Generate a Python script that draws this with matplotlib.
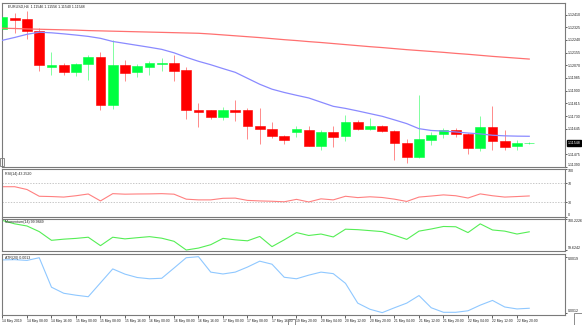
import matplotlib
matplotlib.use('Agg')
import matplotlib.pyplot as plt
from matplotlib.patches import Rectangle

plt.rcParams['font.family'] = ['Liberation Sans', 'DejaVu Sans']

# EURUSD H4, 14 May - 23 May 2019
opens = [1.12312, 1.12386, 1.12379, 1.12303, 1.12062, 1.12069, 1.12025, 1.12080, 1.12125, 1.11801,
         1.12074, 1.12022, 1.12062, 1.12076, 1.12085, 1.12040, 1.11772, 1.11768, 1.11724, 1.11768,
         1.11772, 1.11661, 1.11643, 1.11599, 1.11621, 1.11639, 1.11532, 1.11621, 1.11593, 1.11690,
         1.11643, 1.11665, 1.11627, 1.11550, 1.11456, 1.11572, 1.11610, 1.11639, 1.11612, 1.11516,
         1.11657, 1.11560, 1.11527, 1.11546]
highs = [1.12395, 1.12419, 1.12435, 1.12319, 1.12162, 1.12085, 1.12085, 1.12140, 1.12162, 1.12241,
         1.12107, 1.12080, 1.12096, 1.12118, 1.12140, 1.12062, 1.11817, 1.11772, 1.11790, 1.11839,
         1.11786, 1.11784, 1.11687, 1.11605, 1.11661, 1.11665, 1.11639, 1.11661, 1.11739, 1.11701,
         1.11717, 1.11672, 1.11639, 1.11576, 1.11873, 1.11623, 1.11650, 1.11650, 1.11617, 1.11732,
         1.11799, 1.11634, 1.11567, 1.11556]
lows = [1.12305, 1.12290, 1.12245, 1.12033, 1.12007, 1.12007, 1.11999, 1.11973, 1.11772, 1.11777,
        1.11968, 1.11991, 1.12007, 1.12035, 1.11968, 1.11710, 1.11654, 1.11712, 1.11701, 1.11699,
        1.11576, 1.11543, 1.11583, 1.11543, 1.11590, 1.11527, 1.11500, 1.11523, 1.11560, 1.11634,
        1.11639, 1.11621, 1.11437, 1.11416, 1.11450, 1.11534, 1.11583, 1.11590, 1.11478, 1.11493,
        1.11500, 1.11505, 1.11505, 1.11540]
closes = [1.12393, 1.12375, 1.12303, 1.12069, 1.12074, 1.12025, 1.12080, 1.12125, 1.11801, 1.12069,
          1.12020, 1.12067, 1.12085, 1.12084, 1.12035, 1.11772, 1.11757, 1.11724, 1.11768, 1.11759,
          1.11661, 1.11643, 1.11599, 1.11572, 1.11643, 1.11532, 1.11625, 1.11590, 1.11692, 1.11643,
          1.11665, 1.11627, 1.11550, 1.11456, 1.11576, 1.11605, 1.11639, 1.11612, 1.11516, 1.11657,
          1.11560, 1.11523, 1.11550, 1.11548]

ma_fast = [1.12238, 1.12257, 1.12278, 1.12292, 1.12288, 1.12281, 1.12273, 1.12264, 1.12251, 1.12230,
           1.12217, 1.12204, 1.12191, 1.12177, 1.12154, 1.12124, 1.12097, 1.12074, 1.12048, 1.12023,
           1.11983, 1.11943, 1.11910, 1.11888, 1.11869, 1.11851, 1.11823, 1.11795, 1.11781, 1.11764,
           1.11746, 1.11728, 1.11704, 1.11679, 1.11645, 1.11633, 1.11629, 1.11623, 1.11616, 1.11610,
           1.11601, 1.11597, 1.11595, 1.11594]
ma_slow = [1.12319, 1.12317, 1.12314, 1.12312, 1.12310, 1.12308, 1.12306, 1.12303, 1.12301, 1.12299,
           1.12297, 1.12295, 1.12293, 1.12291, 1.12289, 1.12287, 1.12285, 1.12280, 1.12274, 1.12268,
           1.12262, 1.12256, 1.12249, 1.12242, 1.12236, 1.12229, 1.12223, 1.12216, 1.12209, 1.12202,
           1.12195, 1.12189, 1.12182, 1.12175, 1.12169, 1.12163, 1.12157, 1.12150, 1.12144, 1.12137,
           1.12130, 1.12124, 1.12118, 1.12112]

rsi = [62.7, 62.7, 56.8, 42.6, 42.0, 40.9, 43.7, 47.4, 32.8, 48.1,
       47.0, 47.4, 47.6, 48.1, 47.0, 36.5, 35.0, 35.0, 38.3, 38.7,
       33.9, 32.8, 32.1, 31.0, 36.1, 30.6, 37.2, 35.0, 42.6, 39.8,
       41.5, 40.0, 36.5, 31.7, 40.9, 43.1, 45.5, 43.7, 38.9, 47.6,
       43.7, 40.9, 42.0, 43.252]
momentum = [100.2039, 100.1385, 100.0973, 99.9889, 99.8206, 99.8430, 99.8580, 99.8804, 99.7177, 99.8804,
            99.8486, 99.8710, 99.8916, 99.8617, 99.8019, 99.6336, 99.6710, 99.7364, 99.8580, 99.8299,
            99.8112, 99.8954, 99.6990, 99.8299, 99.9702, 99.9141, 99.9421, 99.8860, 100.0356, 100.0263,
            100.0076, 99.9889, 99.9178, 99.8393, 99.9982, 100.0393, 100.0880, 100.0824, 99.9702, 100.1385,
            100.0206, 99.9982, 99.9421, 99.9849]
atr = [0.001834, 0.001837, 0.001828, 0.001860, 0.001510, 0.001438, 0.001415, 0.001397, 0.001562, 0.001727,
       0.001665, 0.001625, 0.001610, 0.001616, 0.001737, 0.001860, 0.001872, 0.001689, 0.001667, 0.001689,
       0.001749, 0.001819, 0.001783, 0.001628, 0.001610, 0.001653, 0.001689, 0.001671, 0.001556, 0.001321,
       0.001248, 0.001208, 0.001266, 0.001321, 0.001411, 0.001266, 0.001212, 0.001212, 0.001230, 0.001297,
       0.001353, 0.001275, 0.001252, 0.001260]

time_labels = ['14 May 2019', '14 May 08:00', '14 May 16:00', '15 May 00:00', '15 May 08:00',
               '15 May 16:00', '16 May 00:00', '16 May 08:00', '16 May 16:00', '17 May 00:00',
               '17 May 08:00', '17 May 16:00', '19 May 20:00', '20 May 04:00', '20 May 12:00',
               '20 May 20:00', '21 May 04:00', '21 May 12:00', '21 May 20:00', '22 May 04:00',
               '22 May 12:00', '22 May 20:00']
price_ticks = [1.11390, 1.11475, 1.11645, 1.11730, 1.11815, 1.11900, 1.11985,
               1.12070, 1.12155, 1.12240, 1.12325, 1.12410]

W, H = 582, 325
BULL, BEAR = '#00ff40', '#ff0000'
FRAME = '#7a7a7a'
TXT = '#202020'
FS = 2.6


def panel(top, bottom):
    # pixel rows -> figure axes box, all panels share the same left/right edges
    return fig.add_axes([2 / W, 1 - bottom / H, 563 / W, (bottom - top) / H])


def style(ax):
    for s in ax.spines.values():
        s.set_color(FRAME)
        s.set_linewidth(0.8)
    ax.yaxis.tick_right()
    ax.tick_params(axis='y', direction='out', length=1.5, width=0.5, colors=TXT,
                   labelsize=FS, pad=0.6)
    ax.tick_params(axis='x', bottom=False, labelbottom=False)
    ax.set_xlim(-0.04, 45.92)


def edge_labels(ax):
    # top label hangs below the frame, bottom label sits above it
    labels = ax.get_yticklabels()
    labels[0].set_va('bottom')
    labels[-1].set_va('top')


fig = plt.figure(figsize=(W / 100, H / 100), dpi=100)
x = list(range(len(opens)))

# --- price window ---
ax = panel(3, 166.7)
style(ax)
for i in x:
    up = closes[i] >= opens[i]
    c = BULL if up else BEAR
    wick = '#80ffa0' if up else '#ff8a8a'
    ax.vlines(i, lows[i], highs[i], color=wick, linewidth=0.7, zorder=2)
    lo, hi = min(opens[i], closes[i]), max(opens[i], closes[i])
    ax.bar(i, hi - lo, bottom=lo, width=0.78, color=c, edgecolor=c, linewidth=0.4, zorder=3)
ax.plot(x, ma_slow, color='#ff7070', linewidth=0.9, zorder=4)
ax.plot(x, ma_fast, color='#8a8aff', linewidth=0.9, zorder=4)
ax.set_ylim(1.11390, 1.12488)
ax.set_yticks(price_ticks)
ax.set_yticklabels(['%.5f' % p for p in price_ticks])
ax.get_yticklabels()[0].set_va('bottom')
ax.annotate('%.5f' % closes[-1], xy=(1.0, closes[-1]), xycoords=('axes fraction', 'data'),
            xytext=(2, 0), textcoords='offset points', va='center', ha='left',
            fontsize=FS, color='white',
            bbox=dict(boxstyle='square,pad=0.25', fc='black', ec='black'))
fig.text(8 / W, 1 - 7 / H, 'EURUSD,H4  %.5f %.5f %.5f %.5f' % (opens[-1], highs[-1], lows[-1], closes[-1]),
         fontsize=FS, color=TXT, va='center')

# --- RSI ---
ax_rsi = panel(169, 216.5)
style(ax_rsi)
ax_rsi.plot(x, rsi, color='#ff8080', linewidth=0.8)
for lvl in (70, 30):
    ax_rsi.axhline(lvl, color='#b0b0b0', linewidth=0.5, linestyle=(0, (2, 2)))
ax_rsi.set_ylim(0, 100)
ax_rsi.set_yticks([0, 30, 70, 100])
edge_labels(ax_rsi)
fig.text(5 / W, 1 - 174 / H, 'RSI(14) %.4f' % rsi[-1], fontsize=FS, color=TXT, va='center')

# --- Momentum ---
ax_mom = panel(218.5, 251)
style(ax_mom)
ax_mom.plot(x, momentum, color='#55ee55', linewidth=0.8)
ax_mom.set_ylim(99.6145, 100.2419)
ax_mom.set_yticks([99.6242, 100.2226])
ax_mom.set_yticklabels(['99.6242', '100.2226'])
edge_labels(ax_mom)
fig.text(5 / W, 1 - 222 / H, 'Momentum(14) %.4f' % momentum[-1], fontsize=FS, color=TXT, va='center')

# --- ATR ---
ax_atr = panel(253.5, 315)
style(ax_atr)
ax_atr.plot(x, atr, color='#8fc8ff', linewidth=0.8)
ax_atr.set_ylim(0.00118, 0.00191)
ax_atr.set_yticks([min(atr), max(atr)])
ax_atr.set_yticklabels(['%.4f' % min(atr), '%.4f' % max(atr)])
edge_labels(ax_atr)
fig.text(5 / W, 1 - 258 / H, 'ATR(20) %.4f' % atr[-1], fontsize=FS, color=TXT, va='center')
ax_atr.tick_params(axis='x', bottom=True, labelbottom=True, direction='out', length=2,
                   width=0.5, colors=TXT, labelsize=2.4, pad=1)
ax_atr.set_xticks(x[::2])
ax_atr.set_xticklabels(time_labels, ha='left')

# small terminal widgets on the frame
fig.add_artist(Rectangle((0, 1 - 166 / H), 4 / W, 8 / H, transform=fig.transFigure,
                         fill=False, ec=FRAME, lw=0.6))
fig.add_artist(Rectangle((574 / W, 1 - 325 / H), 8 / W, 12 / H, transform=fig.transFigure,
                         fill=False, ec=FRAME, lw=0.6))
fig.add_artist(Rectangle((288 / W, 1 - 325 / H), 7 / W, 6 / H, transform=fig.transFigure,
                         fill=False, ec=FRAME, lw=0.6))

fig.savefig('out.png', dpi=100)
